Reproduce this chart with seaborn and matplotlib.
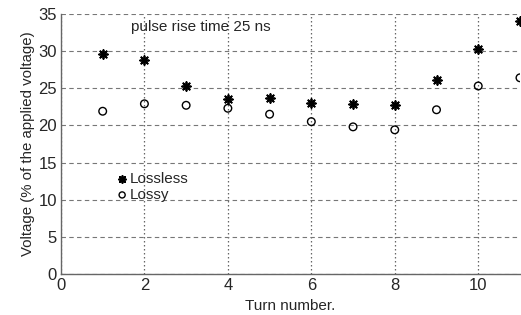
import numpy as np
import matplotlib
matplotlib.use("Agg")
import matplotlib.pyplot as plt
import seaborn as sns

turns = [1, 2, 3, 4, 5, 6, 7, 8, 9, 10, 11]
lossless = [29.6, 28.8, 25.3, 23.6, 23.7, 23.0, 22.9, 22.7, 26.1, 30.3, 34.0]
lossy = [21.9, 22.9, 22.7, 22.3, 21.5, 20.5, 19.8, 19.4, 22.1, 25.3, 26.4]

sns.set_style("white")
plt.rcParams['font.family'] = ['Liberation Sans', 'DejaVu Sans']

fig = plt.figure(figsize=(5.21, 3.15), dpi=100)
ax = fig.add_axes([0.117, 0.130, 0.881, 0.826])

# asterisk for lossless, hollow circle for lossy
sns.scatterplot(x=turns, y=lossless, marker=(8, 2, 0), s=40, color="black",
                linewidth=1.3, zorder=3, label="Lossless", ax=ax)
sns.scatterplot(x=turns, y=lossy, marker="o", s=30, facecolor="none",
                edgecolor="black", linewidth=1.0, zorder=3, label="Lossy", ax=ax)

ax.set_xlim(0, 11)
ax.set_ylim(0, 35)
ax.set_xticks([0, 2, 4, 6, 8, 10])
ax.set_yticks(np.arange(0, 36, 5))
ax.grid(True, axis="y", color="#777777", linestyle=(0, (4, 3)), linewidth=0.8)
ax.grid(True, axis="x", color="#666666", linestyle=(0, (1.2, 2)), linewidth=0.9)
ax.set_axisbelow(True)
for s in ["top", "right"]:
    ax.spines[s].set_visible(False)
for s in ["left", "bottom"]:
    ax.spines[s].set_color("#666666")
    ax.spines[s].set_linewidth(1.0)
ax.tick_params(labelsize=12, length=0, pad=3)

ax.set_xlabel("Turn number.", fontsize=11, labelpad=4)
ax.set_ylabel("Voltage (% of the applied voltage)", fontsize=10.8, labelpad=2)
ax.text(1.67, 33.2, "pulse rise time 25 ns", fontsize=11, va="center")

ax.legend(loc="upper left", bbox_to_anchor=(0.10, 0.42), frameon=False,
          fontsize=11, handletextpad=0.0, labelspacing=0.1, borderpad=0,
          handlelength=1.0, markerscale=0.8)

fig.savefig("out.png", dpi=100)
